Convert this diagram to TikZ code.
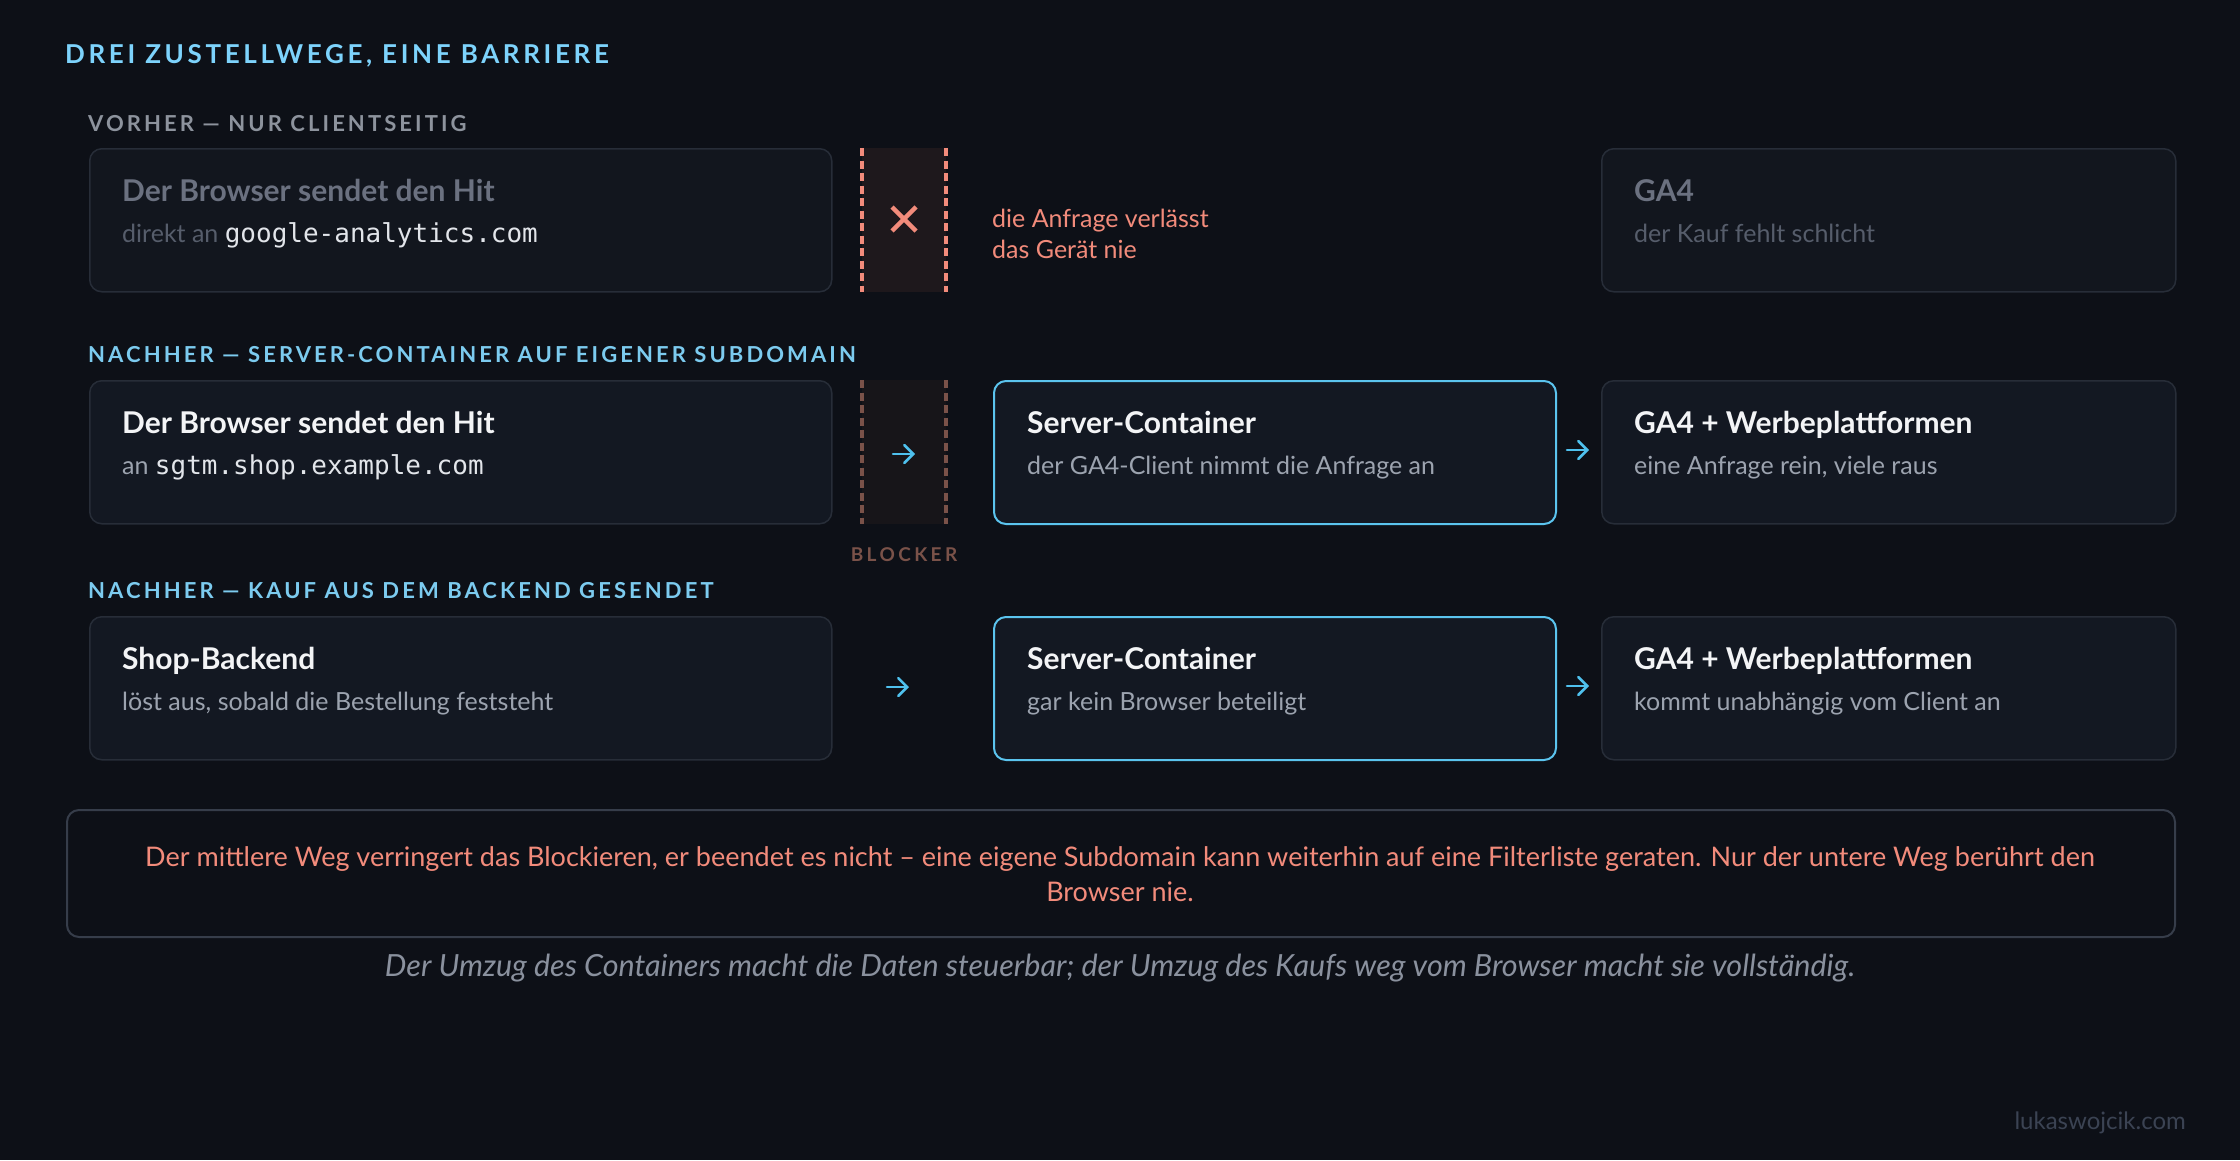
\documentclass[tikz,border=0pt]{standalone}
\usepackage{fontspec}
\setmainfont{Lato}
\setmonofont{DejaVu Sans Mono}
\newfontfamily\trackfont[LetterSpace=14]{Lato}
\newfontfamily\widefont[LetterSpace=18]{Lato}
\usetikzlibrary{arrows.meta}
\definecolor{bg}{HTML}{0D1017}
\definecolor{boxfill}{HTML}{131822}
\definecolor{boxfillA}{HTML}{12161E}
\definecolor{boxline}{HTML}{272D38}
\definecolor{hiline}{HTML}{5BC4EE}
\definecolor{headblue}{HTML}{7DD3FC}
\definecolor{secblue}{HTML}{7CCBEF}
\definecolor{secgrey}{HTML}{8D939D}
\definecolor{fadetitle}{HTML}{6B7180}
\definecolor{fadesub}{HTML}{565D6B}
\definecolor{titlewhite}{HTML}{F3F4F6}
\definecolor{subgrey}{HTML}{9CA3AF}
\definecolor{monolight}{HTML}{E2E5EA}
\definecolor{salmon}{HTML}{F28B7B}
\definecolor{barfillA}{HTML}{1E181C}
\definecolor{barfillB}{HTML}{171519}
\definecolor{brown}{HTML}{7A5249}
\definecolor{arrowblue}{HTML}{4FC1EE}
\definecolor{noteline}{HTML}{363D4A}
\definecolor{capgrey}{HTML}{8A919E}
\definecolor{footgrey}{HTML}{3B4353}
\newcommand\fsz[1]{\fontsize{#1}{#1}\selectfont}
\tikzset{
  box/.style={draw=boxline, fill=boxfill, line width=1.5pt, rounded corners=12pt,
    anchor=north west, inner sep=0pt, minimum height=143pt},
  boxA/.style={box, fill=boxfillA},
  hibox/.style={box, draw=hiline, line width=2pt},
  ttl/.style={anchor=base west, inner sep=0pt, text=titlewhite, font=\fsz{30}\bfseries},
  sub/.style={anchor=base west, inner sep=0pt, text=subgrey, font=\fsz{25}},
  sec/.style={anchor=base west, inner sep=0pt, text=secblue, font=\trackfont\fsz{22}\bfseries},
  arr/.style={draw=arrowblue, line width=2.6pt, line cap=round,
    -{Straight Barb[length=9pt,width=18pt,line cap=round]}},
  barline/.style={line width=4pt, dash pattern=on 8pt off 4.5pt},
}
\begin{document}
\begin{tikzpicture}[x=1pt,y=-1pt]
\useasboundingbox (0,0) rectangle (2240,1160);
\fill[bg] (0,0) rectangle (2240,1160);

% heading
\node[anchor=base west, inner sep=0pt, text=headblue, font=\trackfont\fsz{26}\bfseries] (head) at (65,63) {DREI ZUSTELLWEGE, EINE BARRIERE};

% ---------- row 1
\node[sec, text=secgrey] (sec1) at (88,131) {VORHER — NUR CLIENTSEITIG};
\node[boxA, minimum width=742pt] (a1) at (89,148) {};
\node[ttl, text=fadetitle] (a1t) at (122,201) {Der Browser sendet den Hit};
\node[sub, text=fadesub] (a1s) at (122,242) {direkt an \texttt{\fsz{26}\color{monolight}google-analytics.com}};

\fill[barfillA] (862,148) rectangle (946,292);
\coordinate (b1top) at (862,148); \coordinate (b1bot) at (862,292);
\coordinate (b1topr) at (946,148); \coordinate (b1botr) at (946,292);
\draw[barline, salmon] (b1top) -- (b1bot);
\draw[barline, salmon] (b1topr) -- (b1botr);
\coordinate (x1) at (892,207); \coordinate (x2) at (916,231);
\coordinate (x3) at (892,231); \coordinate (x4) at (916,207);
\draw[salmon, line width=4.5pt] (x1) -- (x2);
\draw[salmon, line width=4.5pt] (x3) -- (x4);

\node[anchor=base west, inner sep=0pt, text=salmon, font=\fsz{25}] (r1note) at (992,227) {die Anfrage verlässt};
\node[anchor=base west, inner sep=0pt, text=salmon, font=\fsz{25}] (r1note2) at (992,258) {das Gerät nie};

\node[boxA, minimum width=574pt] (c1) at (1601,148) {};
\node[ttl, text=fadetitle] (c1t) at (1634,201) {GA4};
\node[sub, text=fadesub] (c1s) at (1634,242) {der Kauf fehlt schlicht};

% ---------- row 2
\node[sec] (sec2) at (88,362) {NACHHER — SERVER-CONTAINER AUF EIGENER SUBDOMAIN};
\node[box, minimum width=742pt] (a2) at (89,380) {};
\node[ttl] (a2t) at (122,433) {Der Browser sendet den Hit};
\node[sub] (a2s) at (122,474) {an \texttt{\fsz{26}\color{monolight}sgtm.shop.example.com}};

\fill[barfillB] (862,380) rectangle (946,524);
\coordinate (b2top) at (862,380); \coordinate (b2bot) at (862,524);
\coordinate (b2topr) at (946,380); \coordinate (b2botr) at (946,524);
\draw[barline, brown] (b2top) -- (b2bot);
\draw[barline, brown] (b2topr) -- (b2botr);
\coordinate (ar2s) at (893,454); \coordinate (ar2e) at (915,454);
\draw[arr] (ar2s) -- (ar2e);
\node[anchor=base, inner sep=0pt, text=brown, font=\widefont\fsz{19}\bfseries] (blk) at (904,561) {BLOCKER};

\node[hibox, minimum width=562pt] (b2) at (993,380) {};
\node[ttl] (b2t) at (1027,433) {Server-Container};
\node[sub] (b2s) at (1027,474) {der GA4-Client nimmt die Anfrage an};

\coordinate (ar3s) at (1567,450); \coordinate (ar3e) at (1589,450);
\draw[arr] (ar3s) -- (ar3e);

\node[box, minimum width=574pt] (c2) at (1601,380) {};
\node[ttl] (c2t) at (1634,433) {GA4 + Werbeplattformen};
\node[sub] (c2s) at (1634,474) {eine Anfrage rein, viele raus};

% ---------- row 3
\node[sec] (sec3) at (88,598) {NACHHER — KAUF AUS DEM BACKEND GESENDET};
\node[box, minimum width=742pt] (a3) at (89,616) {};
\node[ttl] (a3t) at (122,669) {Shop-Backend};
\node[sub] (a3s) at (122,710) {löst aus, sobald die Bestellung feststeht};

\coordinate (ar4s) at (887,687); \coordinate (ar4e) at (909,687);
\draw[arr] (ar4s) -- (ar4e);

\node[hibox, minimum width=562pt] (b3) at (993,616) {};
\node[ttl] (b3t) at (1027,669) {Server-Container};
\node[sub] (b3s) at (1027,710) {gar kein Browser beteiligt};

\coordinate (ar5s) at (1567,686); \coordinate (ar5e) at (1589,686);
\draw[arr] (ar5s) -- (ar5e);

\node[box, minimum width=574pt] (c3) at (1601,616) {};
\node[ttl] (c3t) at (1634,669) {GA4 + Werbeplattformen};
\node[sub] (c3s) at (1634,710) {kommt unabhängig vom Client an};

% ---------- note
\node[draw=noteline, fill=bg, line width=2pt, rounded corners=12pt, anchor=north west,
  inner sep=0pt, minimum width=2108pt, minimum height=127pt] (note) at (66,809) {};
\node[inner sep=0pt, text=salmon, font=\fontsize{27}{35}\selectfont, align=center] (notetxt) at (1120,874)
  {Der mittlere Weg verringert das Blockieren, er beendet es nicht – eine eigene Subdomain kann weiterhin auf eine Filterliste geraten. Nur der untere Weg berührt den\\Browser nie.};

\node[inner sep=0pt, text=capgrey, font=\fsz{30.5}\itshape] (cap) at (1120,968)
  {Der Umzug des Containers macht die Daten steuerbar; der Umzug des Kaufs weg vom Browser macht sie vollständig.};

\node[anchor=east, inner sep=0pt, text=footgrey, font=\fsz{24}] (foot) at (2186,1123) {lukaswojcik.com};
\end{tikzpicture}
\end{document}
